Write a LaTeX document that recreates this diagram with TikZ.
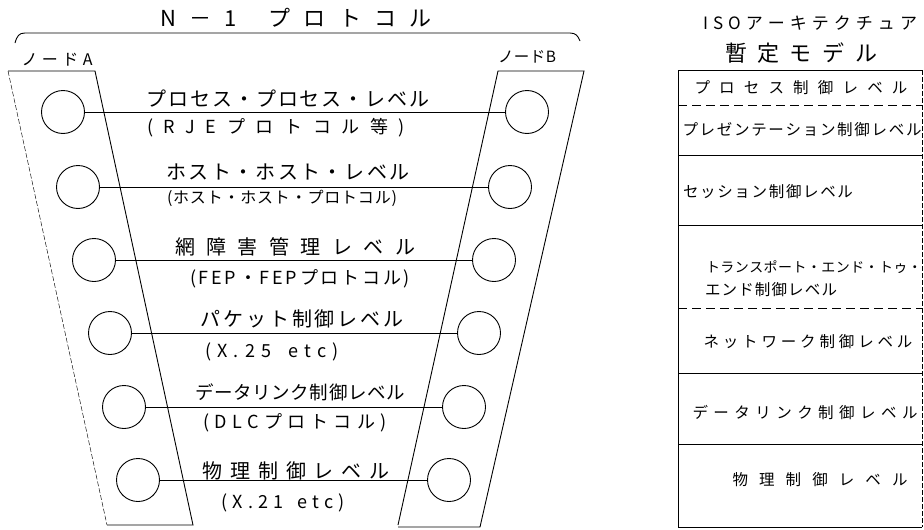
\documentclass[tikz,border=0pt]{standalone}
\usepackage{fontspec}
\setmainfont{Noto Sans CJK JP}
\makeatletter
\def\sprd@first#1{#1\sprd@rest}
\def\sprd@rest#1{\ifx\relax#1\else\hfil#1\expandafter\sprd@rest\fi}
\newcommand\sprd[2]{\makebox[#1][s]{\sprd@first#2\relax}}
\makeatother
\begin{document}
\begin{tikzpicture}[x=1pt,y=-1pt,
  ln/.style={line width=0.9pt},
  faint/.style={line width=0.45pt, dash pattern=on 5pt off 2pt},
  nd/.style={circle, draw, line width=0.9pt, minimum size=43pt, inner sep=0pt},
  lvl/.style={inner sep=0pt, font=\fontsize{20}{20}\selectfont},
  sub/.style={inner sep=0pt, font=\fontsize{18}{18}\selectfont},
  tbl/.style={inner sep=0pt, font=\fontsize{15.5}{15.5}\selectfont},
  hd/.style={inner sep=0pt, font=\fontsize{22}{22}\selectfont}]
\useasboundingbox (0,0) rectangle (924,530);

% title and brace line
\node[hd] (title) at (296,18) {\sprd{272pt}{N－1~プロトコル}};
\draw[ln] (15,43) .. controls (17,36) and (19,33) .. (25,33) -- (570,33) .. controls (576,33) and (578,36) .. (580,41);

% node A band
\node[inner sep=0pt, font=\fontsize{16}{16}\selectfont] (la) at (57,60) {\sprd{71pt}{ノードA}};
\draw[ln] (8,71) -- (95,71) -- (193,525) -- (107,525);
\draw[faint] (8,71) -- (107,525);

% node B band
\node[inner sep=0pt, font=\fontsize{15.5}{15.5}\selectfont] (lb) at (527,57) {\sprd{58pt}{ノードB}};
\draw[ln] (398,525) -- (498,71) -- (584,71) -- (480,527) -- (398,527);

% circles
\node[nd] (a1) at (63,112) {};
\node[nd] (a2) at (78,187) {};
\node[nd] (a3) at (94,260) {};
\node[nd] (a4) at (110,333) {};
\node[nd] (a5) at (124,407) {};
\node[nd] (a6) at (138,480) {};
\node[nd] (b1) at (527,112) {};
\node[nd] (b2) at (510,187) {};
\node[nd] (b3) at (494,260) {};
\node[nd] (b4) at (479,333) {};
\node[nd] (b5) at (464,407) {};
\node[nd] (b6) at (449,480) {};
\foreach \i in {1,...,6} {\draw[ln] (a\i) -- (b\i);}

% level labels
\node[lvl] (l1) at (288,99) {\sprd{283pt}{プロセス・プロセス・レベル}};
\node[sub] (s1) at (276,128) {\sprd{258pt}{(RJEプロトコル等)}};
\node[lvl] (l2) at (288,172) {\sprd{243pt}{ホスト・ホスト・レベル}};
\node[inner sep=0pt, font=\fontsize{16}{16}\selectfont] (s2) at (282,198) {\sprd{230pt}{(ホスト・ホスト・プロトコル)}};
\node[lvl] (l3) at (295,247) {\sprd{240pt}{網障害管理レベル}};
\node[sub] (s3) at (300,279) {\sprd{220pt}{(FEP・FEPプロトコル)}};
\node[lvl] (l4) at (302,319) {\sprd{203pt}{パケット制御レベル}};
\node[sub] (s4) at (272,352) {\sprd{134pt}{(X.25~etc)}};
\node[inner sep=0pt, font=\fontsize{18.5}{18.5}\selectfont] (l5) at (300,392) {\sprd{210pt}{データリンク制御レベル}};
\node[sub] (s5) at (295,423) {\sprd{183pt}{(DLCプロトコル)}};
\node[lvl] (l6) at (296,471) {\sprd{187pt}{物理制御レベル}};
\node[sub] (s6) at (283,503) {\sprd{123pt}{(X.21~etc)}};

% ISO model
\node[inner sep=0pt, font=\fontsize{17}{17}\selectfont] (iso) at (810,23) {\sprd{214pt}{ISOアーキテクチュア}};
\node[hd] (iso2) at (801,53) {\sprd{152pt}{暫定モデル}};
\draw[ln] (922,70) -- (678,70) -- (678,527) -- (922,527);
\draw[faint] (922,70) -- (922,527);
\draw[ln, dash pattern=on 9pt off 5pt] (678,105) -- (922,105);
\draw[ln] (678,155) -- (922,155);
\draw[ln] (678,225) -- (922,225);
\draw[ln, dash pattern=on 9pt off 5pt] (678,308) -- (922,308);
\draw[ln] (678,373) -- (922,373);
\draw[ln] (678,444) -- (922,444);

\node[tbl] (t1) at (801,88) {\sprd{213pt}{プロセス制御レベル}};
\node[tbl] (t2) at (802,130) {\sprd{239pt}{プレゼンテーション制御レベル}};
\node[tbl] (t3) at (768,192) {\sprd{170pt}{セッション制御レベル}};
\node[inner sep=0pt, font=\fontsize{14}{14}\selectfont] (t4) at (814,267) {\sprd{216pt}{トランスポート・エンド・トゥ・}};
\node[tbl] (t4b) at (771,290) {\sprd{132pt}{エンド制御レベル}};
\node[tbl] (t5) at (808,342) {\sprd{209pt}{ネットワーク制御レベル}};
\node[tbl] (t6) at (805,413) {\sprd{225pt}{データリンク制御レベル}};
\node[tbl] (t7) at (820,480) {\sprd{175pt}{物理制御レベル}};
\end{tikzpicture}
\end{document}
